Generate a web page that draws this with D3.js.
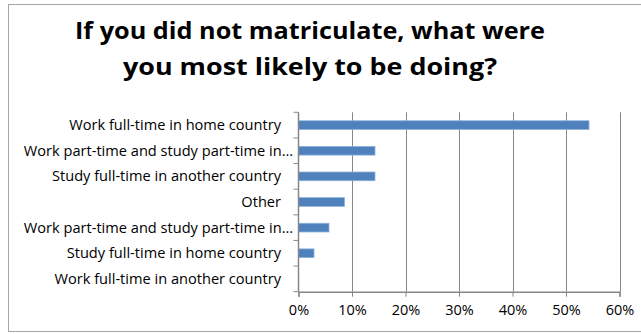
<!DOCTYPE html>
<html><head><meta charset="utf-8">
<script src="https://cdn.jsdelivr.net/npm/d3@7"></script>
<style>html,body{margin:0;padding:0;background:#fff;}svg{display:block;}</style>
</head><body>
<svg id="c" width="641" height="334"></svg>
<script>
const categories = [
  "Work full-time in home country",
  "Work part-time and study part-time in…",
  "Study full-time in another country",
  "Other",
  "Work part-time and study part-time in…",
  "Study full-time in home country",
  "Work full-time in another country"
];
const values = [0.543, 0.143, 0.143, 0.086, 0.057, 0.029, 0];
const xTicks = [0, 0.1, 0.2, 0.3, 0.4, 0.5, 0.6];
const titleLines = ["If you did not matriculate, what were", "you most likely to be doing?"];

const svg = d3.select("#c");
const font = "'Open Sans', Lato, sans-serif";

svg.append("rect").attr("x", 8.5).attr("y", 4.5).attr("width", 640).attr("height", 327)
  .attr("fill", "#fff").attr("stroke", "#a6a6a6").attr("stroke-width", 1);

const L = 298.5, R = 619.5, T = 112.3, B = 291.7;
const x = d3.scaleLinear().domain([0, 0.6]).range([L, R]);
const y = d3.scaleBand().domain(d3.range(categories.length)).range([T, B]).paddingInner(0.66).paddingOuter(0.33);
const yb = d3.scaleBand().domain(d3.range(categories.length)).range([T, B]);

// title
const tt = svg.selectAll("text.title").data(titleLines).join("text")
  .attr("class", "title")
  .attr("x", 310).attr("y", (d, i) => 39 + i * 36)
  .attr("text-anchor", "middle")
  .attr("font-family", font).attr("font-weight", "bold").attr("font-size", 23.5)
  .attr("fill", "#000").text(d => d);
const titleW = [470, 374];
tt.each(function (d, i) {
  const w = this.getComputedTextLength();
  if (Math.abs(w - titleW[i]) > 4) d3.select(this).attr("textLength", titleW[i]).attr("lengthAdjust", "spacingAndGlyphs");
});

// gridlines
svg.append("g").selectAll("line").data(xTicks.slice(1)).join("line")
  .attr("x1", d => Math.round(x(d)) + 0.5).attr("x2", d => Math.round(x(d)) + 0.5)
  .attr("y1", T).attr("y2", B).attr("stroke", "#878787").attr("stroke-width", 1);

// bars
svg.append("g").selectAll("rect").data(values).join("rect")
  .attr("x", x(0)).attr("y", (d, i) => y(i))
  .attr("width", d => x(d) - x(0)).attr("height", y.bandwidth())
  .attr("fill", "#4f81bd").attr("stroke", d => d > 0 ? "#8eb0dc" : "none").attr("stroke-width", 0.8);

// x axis
const xAxis = d3.axisBottom(x).tickValues(xTicks).tickFormat(d3.format(".0%")).tickSize(5).tickPadding(8);
const gx = svg.append("g").attr("transform", `translate(0,${B})`).call(xAxis);
gx.select(".domain").attr("stroke", "#878787").attr("stroke-width", 1.5);
gx.selectAll(".tick line").attr("stroke", "#878787");
gx.selectAll(".tick text").attr("font-family", font).attr("font-size", 14.5).attr("fill", "#000");

// y axis line + ticks at band boundaries
svg.append("line").attr("x1", L).attr("x2", L).attr("y1", T).attr("y2", B)
  .attr("stroke", "#878787").attr("stroke-width", 1.5);
const bounds = d3.range(categories.length + 1).map(i => i < categories.length ? yb(i) : B);
svg.append("g").selectAll("line").data(bounds).join("line")
  .attr("x1", L - 5).attr("x2", L).attr("y1", d => d).attr("y2", d => d)
  .attr("stroke", "#878787").attr("stroke-width", 1);

// category labels
svg.append("g").selectAll("text").data(categories).join("text")
  .attr("x", d => d.endsWith("…") ? 293 : 281)
  .attr("y", (d, i) => yb(i) + yb.bandwidth() / 2 + 5)
  .attr("text-anchor", "end")
  .attr("font-family", font).attr("font-size", 14.6).attr("fill", "#000")
  .text(d => d);
</script>
</body></html>
